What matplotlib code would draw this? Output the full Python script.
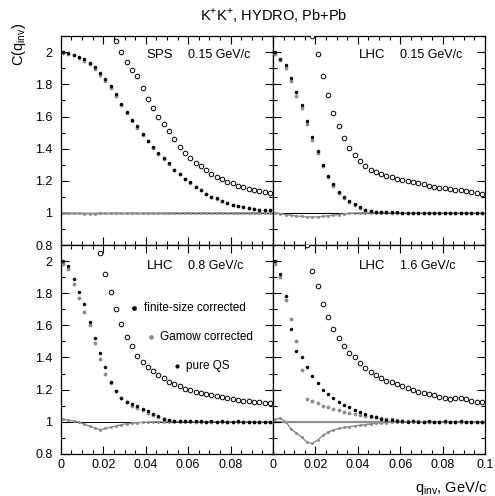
import numpy as np
import matplotlib
matplotlib.use('Agg')
import matplotlib.pyplot as plt
from matplotlib.ticker import MultipleLocator, FuncFormatter

plt.rcParams['font.family'] = ['Liberation Sans', 'DejaVu Sans']
plt.rcParams['mathtext.fontset'] = 'custom'
plt.rcParams['mathtext.rm'] = 'Liberation Sans'

# сетка по q_inv, GeV/c
q = [0.001, 0.0035, 0.006, 0.0085, 0.011, 0.0135, 0.016, 0.0185, 0.021, 0.0235,
     0.026, 0.0285, 0.031, 0.0335, 0.036, 0.0385, 0.041, 0.0435, 0.046, 0.0485,
     0.051, 0.0535, 0.056, 0.0585, 0.061, 0.0635, 0.066, 0.0685, 0.071, 0.0735,
     0.076, 0.0785, 0.081, 0.0835, 0.086, 0.0885, 0.091, 0.0935, 0.096, 0.0985]

# SPS, 0.15 GeV/c
sps_fin = [None, None, None, None, None, None, None, None, None, None,
           2.07, 2.00, 1.94, 1.89, 1.85, 1.78, 1.71, 1.655, 1.60, 1.555,
           1.51, 1.46, 1.41, 1.37, 1.34, 1.31, 1.29, 1.265, 1.245, 1.225,
           1.21, 1.195, 1.185, 1.17, 1.16, 1.15, 1.14, 1.135, 1.13, 1.125]
sps_gam = [1.995, 1.99, 1.98, 1.965, 1.945, 1.925, 1.895, 1.86, 1.82, 1.775,
           1.725, 1.67, 1.62, 1.575, 1.53, 1.485, 1.445, 1.405, 1.365, 1.335,
           1.305, 1.27, 1.24, 1.21, 1.185, 1.16, 1.14, 1.12, 1.10, 1.085,
           1.075, 1.06, 1.05, 1.04, 1.035, 1.03, 1.025, 1.02, 1.015, 1.015]
sps_qs = [2.00, 1.995, 1.985, 1.97, 1.955, 1.935, 1.91, 1.87, 1.835, 1.79,
          1.74, 1.68, 1.63, 1.58, 1.54, 1.49, 1.45, 1.41, 1.37, 1.34,
          1.31, 1.27, 1.24, 1.21, 1.19, 1.16, 1.14, 1.12, 1.10, 1.09,
          1.075, 1.06, 1.05, 1.04, 1.035, 1.03, 1.025, 1.02, 1.02, 1.015]
sps_dip = [1.0, 0.998, 0.997, 0.997, 0.996, 0.996, 0.996, 0.997, 0.997, 0.997,
           0.997, 0.997, 0.997, 0.997, 0.997, 0.997, 0.998, 0.998, 0.998, 0.998,
           0.999, 0.999, 1.0, 1.0, 1.0, 1.0, 1.0, 1.0, 1.0, 1.0,
           1.0, 1.0, 1.0, 1.0, 1.0, 1.0, 1.0, 1.0, 1.0, 1.0]

# LHC, 0.15 GeV/c
l15_fin = [None, None, None, None, None, None, None, 2.10, 1.99, 1.855,
           1.735, 1.625, 1.54, 1.465, 1.405, 1.36, 1.32, 1.29, 1.27, 1.255,
           1.243, 1.232, 1.222, 1.214, 1.207, 1.20, 1.193, 1.186, 1.178, 1.17,
           1.163, 1.158, 1.152, 1.147, 1.143, 1.14, 1.134, 1.13, 1.125, 1.12]
l15_gam = [1.99, 1.95, 1.90, 1.82, 1.73, 1.65, 1.555, 1.455, 1.37, 1.29,
           1.225, 1.17, 1.125, 1.095, 1.07, 1.05, 1.03, 1.018, 1.01, 1.006,
           1.004, 1.003, 1.002, 1.002, 1.001, 1.001, 1.0, 1.001, 1.0, 1.0,
           1.0, 1.0, 1.0, 1.0, 1.0, 1.0, 1.0, 1.0, 1.0, 1.0]
l15_qs = [2.00, 1.96, 1.92, 1.84, 1.75, 1.67, 1.575, 1.475, 1.385, 1.30,
          1.23, 1.18, 1.13, 1.10, 1.075, 1.055, 1.035, 1.02, 1.012, 1.008,
          1.005, 1.004, 1.003, 1.003, 1.002, 1.002, 1.001, 1.002, 1.001, 1.0,
          1.001, 1.0, 1.0, 1.001, 1.0, 1.0, 1.0, 1.001, 1.0, 1.0]
l15_dip = [1.0, 0.995, 0.99, 0.985, 0.98, 0.978, 0.976, 0.975, 0.975, 0.978,
           0.982, 0.986, 0.99, 0.994, 0.997, 0.999, 1.0, 1.0, 1.0, 1.0,
           1.0, 1.0, 1.0, 1.0, 1.0, 1.0, 1.0, 1.0, 1.0, 1.0,
           1.0, 1.0, 1.0, 1.0, 1.0, 1.0, 1.0, 1.0, 1.0, 1.0]

# LHC, 0.8 GeV/c
l08_fin = [None, None, None, None, None, None, None, 2.05, 1.92, 1.81,
           1.70, 1.61, 1.53, 1.47, 1.41, 1.37, 1.34, 1.315, 1.29, 1.27,
           1.25, 1.235, 1.22, 1.205, 1.195, 1.188, 1.18, 1.172, 1.165, 1.158,
           1.152, 1.146, 1.14, 1.136, 1.132, 1.128, 1.124, 1.12, 1.117, 1.115]
l08_gam = [1.98, 1.95, 1.86, 1.77, 1.68, 1.60, 1.49, 1.39, 1.30, 1.24,
           1.19, 1.15, 1.12, 1.10, 1.085, 1.07, 1.055, 1.04, 1.03, 1.02,
           1.01, 1.005, 1.003, 1.002, 1.002, 1.001, 1.001, 1.0, 1.0, 1.0,
           1.0, 1.0, 1.0, 1.0, 1.0, 1.0, 1.0, 1.0, 1.0, 1.0]
l08_qs = [2.0, 1.97, 1.89, 1.81, 1.73, 1.62, 1.52, 1.43, 1.34, 1.25,
          1.19, 1.15, 1.125, 1.11, 1.095, 1.08, 1.065, 1.05, 1.035, 1.02,
          1.01, 1.006, 1.005, 1.003, 1.004, 1.002, 1.003, 1.001, 1.002, 1.0,
          1.002, 1.001, 1.0, 1.002, 1.0, 1.001, 1.0, 1.001, 1.0, 1.0]
l08_dip = [1.015, 1.01, 1.003, 0.997, 0.985, 0.973, 0.962, 0.951, 0.958, 0.966,
           0.975, 0.982, 0.987, 0.991, 0.994, 0.996, 0.998, 0.999, 1.0, 1.0,
           1.0, 1.0, 1.0, 1.0, 1.0, 1.0, 1.0, 1.0, 1.0, 1.0,
           1.0, 1.0, 1.0, 1.0, 1.0, 1.0, 1.0, 1.0, 1.0, 1.0]

# LHC, 1.6 GeV/c
l16_fin = [None, None, None, None, None, None, 2.10, 1.94, 1.845, 1.73,
           1.655, 1.575, 1.52, 1.47, 1.43, 1.40, 1.365, 1.335, 1.31, 1.29,
           1.272, 1.255, 1.245, 1.233, 1.222, 1.21, 1.198, 1.187, 1.178, 1.17,
           1.165, 1.155, 1.145, 1.14, 1.148, 1.15, 1.14, 1.13, 1.125, 1.12]
l16_gam = [1.98, 1.90, 1.76, 1.64, 1.50, 1.32, 1.14, 1.13, 1.115, 1.10,
           1.09, 1.08, 1.07, 1.062, 1.055, 1.048, 1.042, 1.037, 1.032, 1.027,
           1.022, 1.018, 1.014, 1.01, 1.007, 1.005, 1.003, 1.002, 1.001, 1.0,
           1.0, 1.0, 1.0, 1.0, 1.0, 1.0, 1.0, 1.0, 1.0, 1.0]
l16_qs = [2.0, 1.92, 1.78, 1.58, 1.44, 1.40, 1.34, 1.285, 1.24, 1.20,
          1.17, 1.145, 1.125, 1.105, 1.09, 1.075, 1.062, 1.05, 1.038, 1.028,
          1.018, 1.012, 1.008, 1.005, 1.003, 0.998, 1.002, 1.0, 0.997, 1.003,
          1.001, 0.998, 1.002, 1.0, 0.999, 1.003, 1.0, 0.998, 1.001, 1.0]
l16_dip = [1.015, 1.022, 1.0, 0.955, 0.93, 0.905, 0.872, 0.865, 0.885, 0.915,
           0.935, 0.948, 0.958, 0.964, 0.969, 0.974, 0.978, 0.982, 0.986, 0.99,
           0.993, 0.995, 0.997, 0.998, 0.999, 1.0, 1.0, 1.0, 1.0, 1.0,
           1.0, 1.0, 1.0, 1.0, 1.0, 1.0, 1.0, 1.0, 1.0, 1.0]

GREY = '#8e8e8e'

fig, axs = plt.subplots(2, 2, figsize=(4.95, 4.96), dpi=100)
fig.subplots_adjust(left=0.123, right=0.980, top=0.927, bottom=0.085,
                    wspace=0, hspace=0)

panels = [
    (axs[0, 0], 'SPS', '0.15 GeV/c', sps_fin, sps_gam, sps_qs, sps_dip, 'k', 1.0),
    (axs[0, 1], 'LHC', '0.15 GeV/c', l15_fin, l15_gam, l15_qs, l15_dip, 'k', 0.8),
    (axs[1, 0], 'LHC', '0.8 GeV/c', l08_fin, l08_gam, l08_qs, l08_dip, 'k', 0.7),
    (axs[1, 1], 'LHC', '1.6 GeV/c', l16_fin, l16_gam, l16_qs, l16_dip, GREY, 1.6),
]

fmt = FuncFormatter(lambda v, p: '%g' % v)

for i, (ax, acc, pt, fin, gam, qs, dip, lc, lw) in enumerate(panels):
    x = np.array(q)
    ax.axhline(1.0, color=lc, lw=lw, zorder=1)
    ax.plot(x, np.array(dip, dtype=float), '-o', color=GREY, lw=1.0, ms=2.2,
            mec='none', zorder=2)
    ax.plot(x, np.array(gam, dtype=float), 'o', color=GREY, ms=2.8, mec='none', zorder=3)
    ax.plot(x, np.array(qs, dtype=float), 'o', color='k', ms=2.5, mec='none', zorder=3)
    ax.plot(x, np.array(fin, dtype=float), 'o', mfc='white', mec='k', ms=3.3,
            mew=0.7, zorder=4)

    ax.set_xlim(0, 0.1)
    ax.set_ylim(0.8, 2.1)
    ax.set_yticks([0.8, 1.0, 1.2, 1.4, 1.6, 1.8, 2.0])
    ax.yaxis.set_minor_locator(MultipleLocator(0.1))
    if i % 2 == 0:
        ax.set_xticks([0, 0.02, 0.04, 0.06, 0.08])
    else:
        ax.set_xticks([0, 0.02, 0.04, 0.06, 0.08, 0.1])
    ax.xaxis.set_minor_locator(MultipleLocator(0.005))
    ax.xaxis.set_major_formatter(fmt)
    ax.yaxis.set_major_formatter(fmt)
    ax.tick_params(which='both', direction='in', top=True, right=True,
                   width=0.8, labelsize=9)
    ax.tick_params(which='major', length=5.5)
    ax.tick_params(which='minor', length=3)
    ax.tick_params(axis='x', pad=4)
    ax.tick_params(axis='y', pad=6)
    if i < 2:
        ax.tick_params(labelbottom=False)
    if i % 2 == 1:
        ax.tick_params(labelleft=False)
    for s in ax.spines.values():
        s.set_linewidth(0.9)

    yy = 0.908 if i < 2 else 0.90
    ax.text(0.405, yy, acc, transform=ax.transAxes, ha='left', va='center', fontsize=9.5)
    ax.text(0.60, yy, pt, transform=ax.transAxes, ha='left', va='center', fontsize=9)

# подписи маркеров на панели LHC 0.8
ax = axs[1, 0]
ax.plot([0.343], [0.697], 'o', color='k', ms=2.4, transform=ax.transAxes)
ax.text(0.394, 0.697, 'finite-size corrected', transform=ax.transAxes,
        ha='left', va='center', fontsize=8.5)
ax.plot([0.427], [0.559], 'o', color=GREY, ms=2.4, transform=ax.transAxes)
ax.text(0.465, 0.559, 'Gamow corrected', transform=ax.transAxes,
        ha='left', va='center', fontsize=8.5)
ax.plot([0.549], [0.422], 'o', color='k', ms=2.0, transform=ax.transAxes)
ax.text(0.592, 0.422, 'pure QS', transform=ax.transAxes,
        ha='left', va='center', fontsize=8.5)

fig.text(0.552, 0.968, r'K$^{+}$K$^{+}$, HYDRO, Pb+Pb', ha='center', va='center',
         fontsize=10.5)
fig.text(0.038, 0.91, r'C(q$_{\mathrm{inv}}$)', rotation=90, ha='center',
         va='center', fontsize=10.5)
fig.text(0.984, 0.016, r'q$_{\mathrm{inv}}$, GeV/c', ha='right', va='center',
         fontsize=10.5)

fig.savefig('out.png', dpi=100)
